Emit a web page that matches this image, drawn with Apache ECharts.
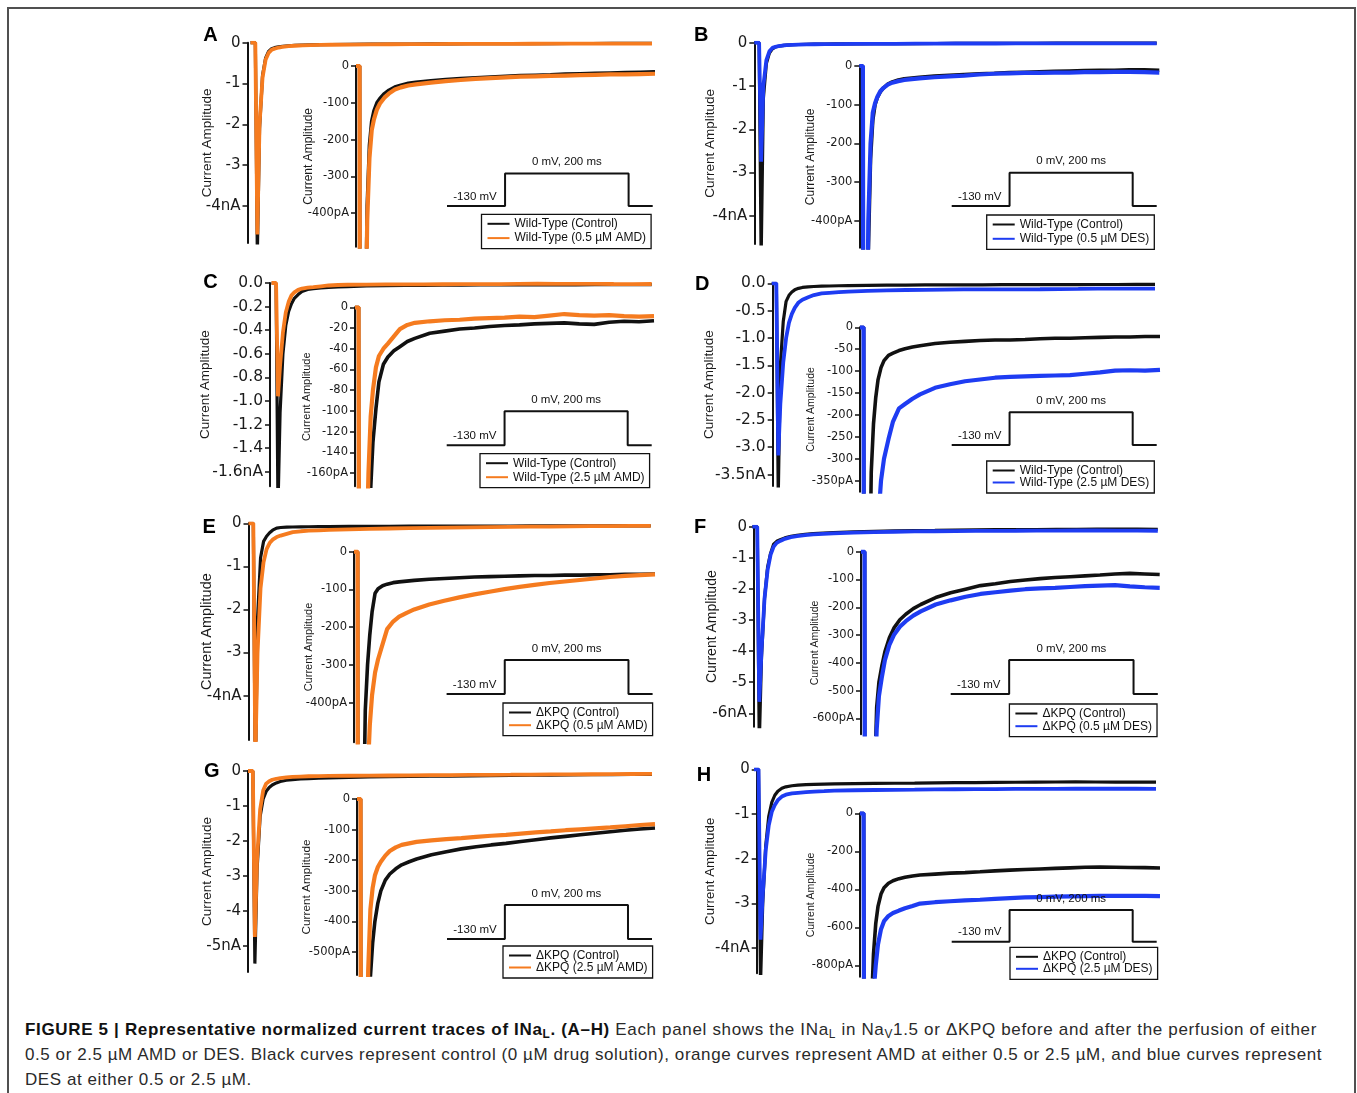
<!DOCTYPE html>
<html>
<head>
<meta charset="utf-8">
<script src="https://cdn.jsdelivr.net/npm/echarts@6/dist/echarts.min.js"></script>
<style>
  html, body { margin: 0; padding: 0; background: #fff; overflow: hidden; }
  #frame { position: absolute; left: 7px; top: 7px; width: 1349px; height: 1200px;
           border: 2px solid #505050; border-bottom: none; box-sizing: border-box; }
  #chart { position: absolute; left: 0; top: 0; width: 1357px; height: 1000px; }
  .cap { position: absolute; left: 25px; height: 25px; line-height: 25px; font-size: 17px;
         font-family: 'Liberation Sans', Arial, Helvetica, sans-serif; color: #2a2a2a; white-space: nowrap; }
  .cap b { color: #111; }
  .cap sub { font-size: 0.7em; vertical-align: -0.25em; line-height: 0; }
</style>
</head>
<body>
<div id="frame"></div>
<div id="chart"></div>
<div class="cap" id="cap1" style="top:1017px"><b>FIGURE 5 | Representative normalized current traces of INa<sub>L</sub>. (A–H)</b> Each panel shows the INa<sub>L</sub> in Na<sub>V</sub>1.5 or ΔKPQ before and after the perfusion of either</div>
<div class="cap" id="cap2" style="top:1042px">0.5 or 2.5 µM AMD or DES. Black curves represent control (0 µM drug solution), orange curves represent AMD at either 0.5 or 2.5 µM, and blue curves represent</div>
<div class="cap" id="cap3" style="top:1067px">DES at either 0.5 or 2.5 µM.</div>
<script>
// ---------- Sampling times of the current traces (ms after the step to 0 mV) ----------
const TIME_MS = [0, 2.4, 3.4, 4.5, 6, 7.5, 9, 10.5, 12, 14, 16, 19, 22, 26, 30, 35, 40,
  50, 60, 70, 80, 90, 100, 110, 120, 130, 140, 150, 160, 170, 180, 190, 200];

// ---------- Current traces in pA (control / drug) ----------
const A_CONTROL = [0, 0, -5200, -2100, -800, -380, -215, -150, -122, -100, -88, -75, -66, -57, -52, -47, -44,
  -40, -37, -34, -32, -30, -28, -26, -25, -24, -22, -21, -20, -19, -18, -17, -16];
const A_DRUG = [0, 0, -4700, -2000, -850, -420, -250, -175, -145, -118, -102, -86, -75, -64, -58, -53, -50,
  -45, -41, -38, -35, -33, -31, -29, -28, -27, -26, -25, -24, -23, -23, -22, -21];

const B_CONTROL = [0, 0, -5000, -1300, -480, -240, -140, -100, -82, -67, -57, -47, -41, -36, -33, -31, -29,
  -26, -24, -22, -20, -19, -17, -16, -15, -14, -13, -12, -11, -11, -10, -10, -11];
const B_DRUG = [0, 0, -2750, -1000, -400, -200, -120, -96, -80, -65, -57, -48, -43, -39, -36, -34, -32,
  -29, -27, -25, -22, -20, -19, -18, -18, -17, -17, -16, -16, -15, -15, -16, -17];

const C_CONTROL = [0, 0, -1900, -1100, -600, -360, -240, -175, -130, -98, -72, -55, -48, -42, -38, -33, -30,
  -25, -23, -21, -20, -18.5, -17.5, -17, -16, -15.5, -15, -16, -16.5, -14.5, -13.5, -14, -13];
const C_DRUG = [0, 0, -960, -700, -420, -250, -160, -105, -80, -58, -47, -40, -35, -28, -21, -17, -15,
  -13.5, -12.5, -12, -11, -10.5, -10, -9, -9.5, -8, -6.5, -7.5, -8, -7.5, -8.5, -9, -8.5];

const D_CONTROL = [0, 0, -3900, -1500, -700, -330, -220, -160, -120, -92, -76, -64, -59, -53, -49, -45, -42,
  -37, -34, -32, -30, -29, -29, -28, -26, -25, -25, -24, -23, -22, -22, -21, -21];
const D_DRUG = [0, 0, -3150, -2200, -1450, -1000, -720, -560, -450, -350, -300, -255, -215, -185, -175, -163, -153,
  -138, -130, -123, -119, -115, -113, -112, -111, -110, -109, -106, -103, -99, -98, -99, -97];

const E_CONTROL = [0, 0, -6000, -2200, -800, -420, -300, -220, -160, -110, -98, -90, -86, -82, -80, -78, -76,
  -73, -71, -69, -67, -66, -65, -64, -63, -63, -62, -62, -61, -61, -60, -60, -59];
const E_DRUG = [0, 0, -5500, -3000, -1500, -900, -600, -460, -380, -320, -285, -245, -205, -185, -172, -162, -153,
  -140, -130, -121, -113, -106, -99, -93, -88, -83, -79, -75, -71, -67, -64, -62, -60];

const F_CONTROL = [0, 0, -7000, -4200, -2300, -1300, -850, -560, -470, -410, -360, -310, -275, -245, -225, -205, -190,
  -165, -148, -135, -122, -115, -107, -102, -97, -93, -90, -87, -84, -80, -78, -80, -82];
const F_DRUG = [0, 0, -5630, -4000, -2300, -1400, -900, -640, -520, -450, -390, -335, -300, -270, -250, -230, -215,
  -190, -175, -162, -152, -146, -140, -135, -132, -130, -127, -124, -122, -120, -125, -128, -130];

const G_CONTROL = [0, 0, -5500, -2800, -1300, -800, -580, -470, -400, -340, -300, -265, -245, -228, -215, -205, -196,
  -182, -172, -163, -156, -150, -145, -139, -133, -127, -122, -117, -112, -107, -102, -98, -95];
const G_DRUG = [0, 0, -4740, -2500, -1100, -560, -360, -290, -250, -222, -205, -185, -170, -158, -150, -145, -140,
  -135, -131, -128, -124, -120, -117, -113, -109, -106, -102, -99, -96, -93, -89, -85, -82];

const H_CONTROL = [0, 0, -4800, -3000, -1700, -1050, -740, -580, -490, -425, -392, -368, -355, -344, -337, -330, -325,
  -320, -315, -312, -308, -303, -299, -296, -293, -290, -287, -284, -283, -284, -285, -286, -288];
const H_DRUG = [0, 0, -3810, -2800, -1800, -1250, -950, -800, -690, -610, -568, -540, -525, -512, -500, -488, -475,
  -468, -463, -458, -455, -450, -446, -443, -441, -439, -437, -436, -435, -435, -434, -435, -436];

// ---------- Legend entries ----------
const A_NAMES = ['Wild-Type (Control)', 'Wild-Type (0.5 µM AMD)'];
const B_NAMES = ['Wild-Type (Control)', 'Wild-Type (0.5 µM DES)'];
const C_NAMES = ['Wild-Type (Control)', 'Wild-Type (2.5 µM AMD)'];
const D_NAMES = ['Wild-Type (Control)', 'Wild-Type (2.5 µM DES)'];
const E_NAMES = ['ΔKPQ (Control)', 'ΔKPQ (0.5 µM AMD)'];
const F_NAMES = ['ΔKPQ (Control)', 'ΔKPQ (0.5 µM DES)'];
const G_NAMES = ['ΔKPQ (Control)', 'ΔKPQ (2.5 µM AMD)'];
const H_NAMES = ['ΔKPQ (Control)', 'ΔKPQ (2.5 µM DES)'];

// ---------- Axis ticks (main plots in nA, insets in pA) ----------
const NA4_TICKS = [0, -1, -2, -3, -4];
const NA4_LABELS = ['0', '-1', '-2', '-3', '-4nA'];
const NA5_TICKS = [0, -1, -2, -3, -4, -5];
const NA5_LABELS = ['0', '-1', '-2', '-3', '-4', '-5nA'];
const NA6_TICKS = [0, -1, -2, -3, -4, -5, -6];
const NA6_LABELS = ['0', '-1', '-2', '-3', '-4', '-5', '-6nA'];
const C_MAIN_TICKS = [0, -0.2, -0.4, -0.6, -0.8, -1.0, -1.2, -1.4, -1.6];
const C_MAIN_LABELS = ['0.0', '-0.2', '-0.4', '-0.6', '-0.8', '-1.0', '-1.2', '-1.4', '-1.6nA'];
const D_MAIN_TICKS = [0, -0.5, -1.0, -1.5, -2.0, -2.5, -3.0, -3.5];
const D_MAIN_LABELS = ['0.0', '-0.5', '-1.0', '-1.5', '-2.0', '-2.5', '-3.0', '-3.5nA'];

const PA400_TICKS = [0, -100, -200, -300, -400];
const PA400_LABELS = ['0', '-100', '-200', '-300', '-400pA'];
const C_INSET_TICKS = [0, -20, -40, -60, -80, -100, -120, -140, -160];
const C_INSET_LABELS = ['0', '-20', '-40', '-60', '-80', '-100', '-120', '-140', '-160pA'];
const D_INSET_TICKS = [0, -50, -100, -150, -200, -250, -300, -350];
const D_INSET_LABELS = ['0', '-50', '-100', '-150', '-200', '-250', '-300', '-350pA'];
const F_INSET_TICKS = [0, -100, -200, -300, -400, -500, -600];
const F_INSET_LABELS = ['0', '-100', '-200', '-300', '-400', '-500', '-600pA'];
const G_INSET_TICKS = [0, -100, -200, -300, -400, -500];
const G_INSET_LABELS = ['0', '-100', '-200', '-300', '-400', '-500pA'];
const H_INSET_TICKS = [0, -200, -400, -600, -800];
const H_INSET_LABELS = ['0', '-200', '-400', '-600', '-800pA'];

// ---------- Voltage protocol (ms, mV) ----------
const PROTOCOL_T = [0, 94, 94, 294, 294, 333];
const PROTOCOL_MV = [-130, -130, 0, 0, -130, -130];
const PROTOCOL_LOW_LABEL = '-130 mV';
const PROTOCOL_STEP_LABEL = '0 mV, 200 ms';

// ---------- Styles ----------
const CONTROL_COLOR = '#111111';
const AMD_COLOR = '#F57B1F';
const DES_COLOR = '#1E3CF2';
const TICK_FONT = "'DejaVu Sans', Verdana, sans-serif";
const TEXT_FONT = "'Liberation Sans', Arial, Helvetica, sans-serif";
const AXIS_NAME = 'Current Amplitude';

// Pixel layout of each panel: axis position, 0-line, right end, bottom, axis extent
const LAYOUT = {
  A: { letter: [203.3, 28.3],
       main: { x: 247.5, y0: 42.7, right: 652, bottom: 243, min: -4.91, xMin: -1.5, gap: 33, nameSize: 13.5, tickSize: 15 },
       inset: { x: 356, y0: 66, right: 655, bottom: 246.7, min: -491, gap: 41, nameSize: 12, tickSize: 11.5 },
       proto: { left: 447, right: 652.7, hi: 173.5, lo: 206 },
       legend: { left: 481.5, top: 214.3, gap: 2.3 } },
  B: { letter: [694, 28.3],
       main: { x: 754.3, y0: 42.7, right: 1156.7, bottom: 244, min: -4.65, xMin: 0, gap: 37.5, nameSize: 13.5, tickSize: 15 },
       inset: { x: 859.3, y0: 66, right: 1159.3, bottom: 247.7, min: -469, gap: 42.5, nameSize: 12, tickSize: 11.5 },
       proto: { left: 951.7, right: 1156.7, hi: 172.7, lo: 206 },
       legend: { left: 986.7, top: 215, gap: 2.3 } },
  C: { letter: [203.3, 274.7],
       main: { x: 270, y0: 283, right: 651.7, bottom: 486.3, min: -1.723, xMin: -0.8, gap: 58, nameSize: 13.5, tickSize: 15.5 },
       inset: { x: 355, y0: 307.3, right: 654, bottom: 486.3, min: -172.8, gap: 43, nameSize: 11, tickSize: 11.5 },
       proto: { left: 446.7, right: 651.7, hi: 411.3, lo: 445.3 },
       legend: { left: 480, top: 453.7, gap: 2 } },
  D: { letter: [695, 276.7],
       main: { x: 772.7, y0: 283.3, right: 1155, bottom: 486, min: -3.71, xMin: 0.5, gap: 56, nameSize: 13.5, tickSize: 15.5 },
       inset: { x: 860, y0: 327.3, right: 1160, bottom: 491.7, min: -375, gap: 43, nameSize: 10.5, tickSize: 11.5 },
       proto: { left: 951.7, right: 1156.7, hi: 412.3, lo: 445 },
       legend: { left: 986.7, top: 461, gap: 0 } },
  E: { letter: [202.4, 520],
       main: { x: 248.5, y0: 523.3, right: 650.7, bottom: 740, min: -5.03, xMin: 0, gap: 34, nameSize: 14.5, tickSize: 15 },
       inset: { x: 354, y0: 551.7, right: 655, bottom: 742.3, min: -505, gap: 40, nameSize: 11, tickSize: 11.5 },
       proto: { left: 446.6, right: 652.6, hi: 660, lo: 694 },
       legend: { left: 503, top: 703, gap: 0.7 } },
  F: { letter: [694, 520],
       main: { x: 754, y0: 526.7, right: 1157.8, bottom: 726.7, min: -6.43, xMin: 0.8, gap: 35, nameSize: 14, tickSize: 15 },
       inset: { x: 861, y0: 551.7, right: 1159.7, bottom: 734.3, min: -657, gap: 40, nameSize: 10.5, tickSize: 11.5 },
       proto: { left: 950.7, right: 1157.8, hi: 660, lo: 694 },
       legend: { left: 1009.4, top: 704, gap: 0.7 } },
  G: { letter: [204, 764],
       main: { x: 248, y0: 771, right: 652, bottom: 972, min: -5.74, xMin: 0, gap: 34, nameSize: 13.5, tickSize: 15 },
       inset: { x: 357, y0: 799, right: 655, bottom: 975, min: -575, gap: 44, nameSize: 11.8, tickSize: 11.5 },
       proto: { left: 447, right: 652, hi: 905, lo: 939 },
       legend: { left: 503, top: 946, gap: 0 } },
  H: { letter: [696.7, 768.3],
       main: { x: 756.7, y0: 769.3, right: 1156, bottom: 973.3, min: -4.56, xMin: 1.5, gap: 40, nameSize: 13.3, tickSize: 15 },
       inset: { x: 860, y0: 813.3, right: 1160, bottom: 976.7, min: -860, gap: 43, nameSize: 10.5, tickSize: 11.5 },
       proto: { left: 951.7, right: 1156.7, hi: 910, lo: 941.7 },
       legend: { left: 1010, top: 947.3, gap: 0 } }
};

const PANELS = [
  { id: 'A', ctrl: A_CONTROL, drug: A_DRUG, names: A_NAMES, color: AMD_COLOR,
    mainTicks: NA4_TICKS, mainLabels: NA4_LABELS, insetTicks: PA400_TICKS, insetLabels: PA400_LABELS },
  { id: 'B', ctrl: B_CONTROL, drug: B_DRUG, names: B_NAMES, color: DES_COLOR,
    mainTicks: NA4_TICKS, mainLabels: NA4_LABELS, insetTicks: PA400_TICKS, insetLabels: PA400_LABELS },
  { id: 'C', ctrl: C_CONTROL, drug: C_DRUG, names: C_NAMES, color: AMD_COLOR,
    mainTicks: C_MAIN_TICKS, mainLabels: C_MAIN_LABELS, insetTicks: C_INSET_TICKS, insetLabels: C_INSET_LABELS },
  { id: 'D', ctrl: D_CONTROL, drug: D_DRUG, names: D_NAMES, color: DES_COLOR,
    mainTicks: D_MAIN_TICKS, mainLabels: D_MAIN_LABELS, insetTicks: D_INSET_TICKS, insetLabels: D_INSET_LABELS },
  { id: 'E', ctrl: E_CONTROL, drug: E_DRUG, names: E_NAMES, color: AMD_COLOR,
    mainTicks: NA4_TICKS, mainLabels: NA4_LABELS, insetTicks: PA400_TICKS, insetLabels: PA400_LABELS },
  { id: 'F', ctrl: F_CONTROL, drug: F_DRUG, names: F_NAMES, color: DES_COLOR,
    mainTicks: NA6_TICKS, mainLabels: NA6_LABELS, insetTicks: F_INSET_TICKS, insetLabels: F_INSET_LABELS },
  { id: 'G', ctrl: G_CONTROL, drug: G_DRUG, names: G_NAMES, color: AMD_COLOR,
    mainTicks: NA5_TICKS, mainLabels: NA5_LABELS, insetTicks: G_INSET_TICKS, insetLabels: G_INSET_LABELS },
  { id: 'H', ctrl: H_CONTROL, drug: H_DRUG, names: H_NAMES, color: DES_COLOR,
    mainTicks: NA4_TICKS, mainLabels: NA4_LABELS, insetTicks: H_INSET_TICKS, insetLabels: H_INSET_LABELS }
];

function currentAxis(gi, min, ticks, labels, box) {
  return {
    gridIndex: gi, type: 'value', min: min, max: 0,
    axisLine: { show: true, onZero: false, lineStyle: { color: '#111', width: 2 } },
    axisTick: { show: true, length: 5, customValues: ticks, lineStyle: { color: '#111', width: 1.5 } },
    axisLabel: {
      show: true, customValues: ticks, margin: 7, color: '#1a1a1a',
      fontSize: box.tickSize, fontFamily: TICK_FONT,
      formatter: function (v) {
        const i = ticks.findIndex(function (t) { return Math.abs(t - v) < 1e-6; });
        return i >= 0 ? labels[i] : '';
      }
    },
    splitLine: { show: false },
    name: AXIS_NAME, nameLocation: 'middle', nameGap: box.gap, nameRotate: 90, nameMoveOverlap: false,
    nameTextStyle: { fontSize: box.nameSize, fontFamily: TEXT_FONT, color: '#1a1a1a' }
  };
}

function tracePoints(values, scale) {
  return TIME_MS.map(function (t, i) { return [t, values[i] * scale]; });
}

const grid = [], xAxis = [], yAxis = [], series = [], legend = [], graphic = [];

PANELS.forEach(function (p) {
  const L = LAYOUT[p.id];

  // main plot (nA)
  const gm = grid.length;
  grid.push({ left: L.main.x, top: L.main.y0, width: L.main.right - L.main.x, height: L.main.bottom - L.main.y0 });
  xAxis.push({ gridIndex: gm, type: 'value', min: L.main.xMin, max: 200, show: false });
  yAxis.push(currentAxis(gm, L.main.min, p.mainTicks, p.mainLabels, L.main));
  series.push({ type: 'line', name: p.names[0], xAxisIndex: gm, yAxisIndex: gm, data: tracePoints(p.ctrl, 0.001),
    symbol: 'none', showSymbol: false, silent: true, clip: true,
    lineStyle: { color: CONTROL_COLOR, width: 3.2 }, itemStyle: { color: CONTROL_COLOR } });
  series.push({ type: 'line', name: p.names[1], xAxisIndex: gm, yAxisIndex: gm, data: tracePoints(p.drug, 0.001),
    symbol: 'none', showSymbol: false, silent: true, clip: true,
    lineStyle: { color: p.color, width: 3.8 }, itemStyle: { color: p.color } });

  // inset (pA)
  const gi = grid.length;
  grid.push({ left: L.inset.x, top: L.inset.y0, width: L.inset.right - L.inset.x, height: L.inset.bottom - L.inset.y0 });
  xAxis.push({ gridIndex: gi, type: 'value', min: 0, max: 200, show: false });
  yAxis.push(currentAxis(gi, L.inset.min, p.insetTicks, p.insetLabels, L.inset));
  series.push({ type: 'line', name: p.names[0], xAxisIndex: gi, yAxisIndex: gi, data: tracePoints(p.ctrl, 1),
    symbol: 'none', showSymbol: false, silent: true, clip: true,
    lineStyle: { color: CONTROL_COLOR, width: 3.6 }, itemStyle: { color: CONTROL_COLOR } });
  series.push({ type: 'line', name: p.names[1], xAxisIndex: gi, yAxisIndex: gi, data: tracePoints(p.drug, 1),
    symbol: 'none', showSymbol: false, silent: true, clip: true,
    lineStyle: { color: p.color, width: 4.2 }, itemStyle: { color: p.color } });

  // voltage protocol
  const gp = grid.length;
  const P = L.proto;
  grid.push({ left: P.left, top: P.hi, width: P.right - P.left, height: P.lo - P.hi });
  xAxis.push({ gridIndex: gp, type: 'value', min: 0, max: 333, show: false });
  yAxis.push({ gridIndex: gp, type: 'value', min: -130, max: 0, show: false });
  series.push({ type: 'line', name: 'protocol-' + p.id, xAxisIndex: gp, yAxisIndex: gp, z: 5, clip: false,
    data: PROTOCOL_T.map(function (t, i) { return [t, PROTOCOL_MV[i]]; }),
    symbol: 'none', showSymbol: false, silent: true,
    lineStyle: { color: '#111', width: 2 }, itemStyle: { color: '#111' } });

  const w = P.right - P.left;
  const upX = P.left + w * PROTOCOL_T[2] / 333;
  const downX = P.left + w * PROTOCOL_T[4] / 333;
  graphic.push({ type: 'text', x: P.left + 28, y: P.lo - 9.5, z: 10, silent: true,
    style: { text: PROTOCOL_LOW_LABEL, font: '11.5px ' + TEXT_FONT, fill: '#111',
             align: 'center', verticalAlign: 'middle', textAlign: 'center', textVerticalAlign: 'middle' } });
  graphic.push({ type: 'text', x: (upX + downX) / 2, y: P.hi - 11.5, z: 10, silent: true,
    style: { text: PROTOCOL_STEP_LABEL, font: '11.5px ' + TEXT_FONT, fill: '#111',
             align: 'center', verticalAlign: 'middle', textAlign: 'center', textVerticalAlign: 'middle' } });

  // panel letter
  graphic.push({ type: 'text', x: L.letter[0], y: L.letter[1] - 2.6, silent: true,
    style: { text: p.id, font: 'bold 20px ' + TEXT_FONT, fill: '#000',
             align: 'left', verticalAlign: 'top', textAlign: 'left', textVerticalAlign: 'top' } });

  // legend box
  legend.push({
    orient: 'vertical', left: L.legend.left, top: L.legend.top,
    data: p.names.slice(), icon: 'rect', itemWidth: 22, itemHeight: 2, itemGap: L.legend.gap,
    padding: [3.5, 5, 4.5, 6], borderColor: '#111', borderWidth: 1.3, borderRadius: 0,
    backgroundColor: '#fff', selectedMode: false, z: 6,
    textStyle: { fontSize: 12, fontFamily: TEXT_FONT, color: '#111', lineHeight: 12 }
  });
});

const chart = echarts.init(document.getElementById('chart'), null, { renderer: 'canvas' });
chart.setOption({
  animation: false,
  backgroundColor: 'transparent',
  grid: grid, xAxis: xAxis, yAxis: yAxis, series: series, legend: legend, graphic: graphic
});

// Caption lines are stretched to the full text width of the figure
function fitCaption() {
  const l1 = document.getElementById('cap1');
  const l2 = document.getElementById('cap2');
  const l3 = document.getElementById('cap3');
  [l1, l2, l3].forEach(function (el) { el.style.letterSpacing = '0px'; });
  function stretch(el, target) {
    const wdt = el.getBoundingClientRect().width;
    const ls = (target - wdt) / el.textContent.length;
    el.style.letterSpacing = ls + 'px';
    return ls;
  }
  stretch(l1, 1292);
  const ls = stretch(l2, 1297);
  l3.style.letterSpacing = ls + 'px';
}
fitCaption();
if (document.fonts && document.fonts.ready) document.fonts.ready.then(fitCaption);
</script>
</body>
</html>
